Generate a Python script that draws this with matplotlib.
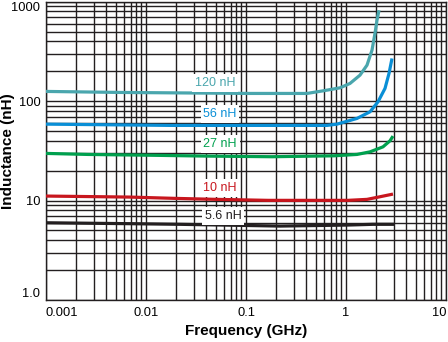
import numpy as np
import matplotlib
matplotlib.use("Agg")
import matplotlib.pyplot as plt
from matplotlib import ticker

# ---- data (frequency in GHz, inductance in nH) ----
freq_120 = [0.001, 0.0055, 0.107, 0.407, 0.589, 0.871, 1.096, 1.38, 1.622, 1.82, 1.95, 2.042, 2.138]
ind_120 = [125.2, 122.3, 119.5, 119.5, 126.9, 136.1, 150.6, 182.5, 230, 325.6, 482.5, 651.6, 821]

freq_56 = [0.001, 0.0174, 0.646, 0.813, 1.288, 1.738, 2.089, 2.455, 2.692, 2.884]
ind_56 = [58.7, 57.0, 57.0, 58.7, 67.0, 78.1, 98.4, 134.2, 189.8, 268.6]

freq_27 = [0.001, 0.00263, 0.0129, 0.0417, 0.182, 0.759, 1.288, 1.738, 2.344, 2.754, 2.951]
ind_27 = [29.8, 29.1, 28.5, 28.0, 27.6, 28.2, 29.1, 30.9, 34.7, 39.9, 44.5]

freq_10 = [0.001, 0.00692, 0.0195, 0.0513, 0.166, 1.047, 1.622, 2.042, 2.951]
ind_10 = [11.1, 10.84, 10.52, 10.28, 10.05, 10.05, 10.28, 10.77, 11.62]

freq_5p6 = [0.001, 0.00741, 0.0219, 0.0589, 0.219, 1.023, 1.862, 3.09]
ind_5p6 = [5.98, 5.85, 5.77, 5.67, 5.54, 5.67, 5.77, 5.77]

curve_names = ["120 nH", "56 nH", "27 nH", "10 nH", "5.6 nH"]
x_ticks = [0.001, 0.01, 0.1, 1, 10]
x_tick_labels = ["0.001", "0.01", "0.1", "1", "10"]
y_ticks = [1, 10, 100, 1000]
y_tick_labels = ["1.0", "10", "100", "1000"]


plt.rcParams["font.family"] = ["Liberation Sans", "DejaVu Sans"]

fig = plt.figure(figsize=(4.48, 3.42), dpi=100)
ax = fig.add_axes([46 / 448, 1 - 300 / 342, 400 / 448, 298.3 / 342])

ax.set_xscale("log")
ax.set_yscale("log")
ax.set_xlim(0.001, 10)
ax.set_ylim(1, 1000)

# grid: every 1..9 line in each decade, all the same weight
ax.xaxis.set_minor_locator(ticker.LogLocator(base=10, subs=np.arange(2, 10)))
ax.yaxis.set_minor_locator(ticker.LogLocator(base=10, subs=np.arange(2, 10)))
ax.xaxis.set_minor_formatter(ticker.NullFormatter())
ax.yaxis.set_minor_formatter(ticker.NullFormatter())
ax.grid(True, which="both", color="#231f20", linewidth=1.0, zorder=1)
ax.set_axisbelow(True)
for sp in ax.spines.values():
    sp.set_linewidth(1.0)
    sp.set_color("#231f20")

ax.tick_params(which="both", length=0)
ax.tick_params(axis="x", pad=5, labelsize=9.3)
ax.tick_params(axis="y", pad=4, labelsize=9.3)

ax.set_xticks(x_ticks, x_tick_labels)
ax.set_yticks(y_ticks, y_tick_labels)
xl = ax.get_xticklabels()
xl[0].set_horizontalalignment("left")
xl[-1].set_horizontalalignment("right")
yl = ax.get_yticklabels()
yl[0].set_verticalalignment("bottom")
yl[-1].set_verticalalignment("top")

# curves
lw = 2.3
ax.plot(freq_120, ind_120, color="#4aa6ad", linewidth=lw, zorder=3, solid_capstyle="butt")
ax.plot(freq_56, ind_56, color="#0a8fd6", linewidth=lw, zorder=3, solid_capstyle="butt")
ax.plot(freq_27, ind_27, color="#00a04e", linewidth=lw, zorder=3, solid_capstyle="butt")
ax.plot(freq_10, ind_10, color="#c8161e", linewidth=lw, zorder=3, solid_capstyle="butt")
ax.plot(freq_5p6, ind_5p6, color="#231f20", linewidth=lw, zorder=3, solid_capstyle="butt")

# curve labels with white boxes over the grid
box = dict(facecolor="white", edgecolor="none", pad=2.0)
ax.text(0.049, 151.7, curve_names[0], color="#4aa6ad", fontsize=9, ha="center", va="center", bbox=box, zorder=4)
ax.text(0.055, 74.0, curve_names[1], color="#0a8fd6", fontsize=9, ha="center", va="center", bbox=box, zorder=4)
ax.text(0.055, 37.0, curve_names[2], color="#00a04e", fontsize=9, ha="center", va="center", bbox=box, zorder=4)
ax.text(0.055, 13.35, curve_names[3], color="#c8161e", fontsize=9, ha="center", va="center", bbox=box, zorder=4)
ax.text(0.0589, 6.99, curve_names[4], color="#231f20", fontsize=9, ha="center", va="center", bbox=box, zorder=4)

ax.set_xlabel("Frequency (GHz)", fontsize=11, fontweight="bold", labelpad=4)
ax.set_ylabel("Inductance (nH)", fontsize=11, fontweight="bold")
ax.yaxis.set_label_coords(-0.078, 0.5)

fig.savefig("out.png", dpi=100)
plt.close(fig)
